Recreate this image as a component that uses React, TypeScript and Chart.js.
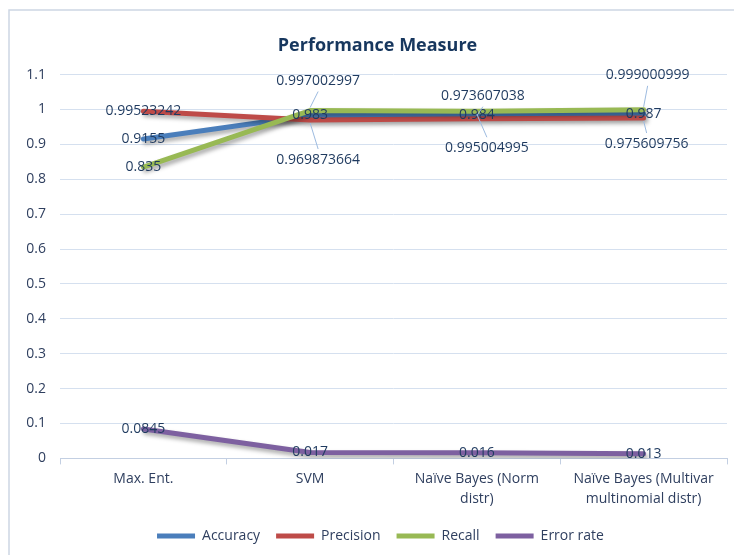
import React, { useEffect, useRef } from 'react';
import { Chart, registerables } from 'chart.js';

Chart.register(...registerables);

const categories: (string | string[])[] = [
  'Max. Ent.',
  'SVM',
  ['Naïve Bayes (Norm', 'distr)'],
  ['Naïve Bayes (Multivar', 'multinomial distr)'],
];
const seriesNames = ['Accuracy', 'Precision', 'Recall', 'Error rate'];
const accuracy = [0.9155, 0.983, 0.984, 0.987];
const precision = [0.99523242, 0.969873664, 0.973607038, 0.975609756];
const recall = [0.835, 0.997002997, 0.995004995, 0.999000999];
const errorRate = [0.0845, 0.017, 0.016, 0.013];
const yTickLabels = ['0', '0.1', '0.2', '0.3', '0.4', '0.5', '0.6', '0.7', '0.8', '0.9', '1', '1.1'];

const colors = ['#4a7ebb', '#be4b48', '#98b954', '#7d60a0'];
const FONT = '"Open Sans", "Liberation Sans", sans-serif';
const TEXT = '#1f3a5f';

// label displacement (dx, dy) for overlapping labels, keyed "dataset-index"
const labelMoves: Record<string, [number, number]> = {
  '2-1': [8, -30],
  '1-1': [8, 40],
  '1-2': [6, -23],
  '2-2': [10, 37],
  '2-3': [4, -35],
  '1-3': [3, 26],
};

const framePlugin = {
  id: 'frame',
  beforeDraw(chart: any) {
    const ctx = chart.ctx;
    ctx.save();
    ctx.fillStyle = '#ffffff';
    ctx.fillRect(0, 0, chart.width, chart.height);
    ctx.strokeStyle = '#cdd6e4';
    ctx.lineWidth = 1.5;
    ctx.beginPath();
    ctx.moveTo(9, chart.height);
    ctx.lineTo(9, 10);
    ctx.lineTo(chart.width, 10);
    ctx.stroke();
    ctx.restore();
  },
};

const shiftPlugin = {
  id: 'shiftBoxes',
  afterLayout(chart: any) {
    if (chart.legend) {
      chart.legend.left += 17;
      chart.legend.right += 17;
    }
    if (chart.titleBlock) {
      chart.titleBlock.left += 14;
      chart.titleBlock.right += 14;
    }
  },
};

const shadowPlugin = {
  id: 'lineShadow',
  beforeDatasetsDraw(chart: any) {
    const ctx = chart.ctx;
    ctx.save();
    ctx.shadowColor = 'rgba(0,0,0,0.35)';
    ctx.shadowBlur = 4;
    ctx.shadowOffsetX = 2;
    ctx.shadowOffsetY = 3;
  },
  afterDatasetsDraw(chart: any) {
    chart.ctx.restore();
  },
};

const labelPlugin = {
  id: 'valueLabels',
  afterDatasetsDraw(chart: any) {
    const ctx = chart.ctx;
    ctx.save();
    ctx.font = `14px ${FONT}`;
    ctx.textAlign = 'center';
    ctx.textBaseline = 'middle';
    chart.data.datasets.forEach((ds: any, di: number) => {
      const meta = chart.getDatasetMeta(di);
      meta.data.forEach((pt: any, i: number) => {
        const v = ds.data[i];
        const mv = labelMoves[`${di}-${i}`];
        let x = pt.x;
        let y = pt.y;
        if (mv) {
          x += mv[0];
          y += mv[1];
          ctx.strokeStyle = '#9dbbe0';
          ctx.lineWidth = 1;
          ctx.beginPath();
          if (mv[1] < 0) {
            ctx.moveTo(x, y + 11);
            ctx.lineTo(pt.x, pt.y - 3);
          } else {
            ctx.moveTo(x, y - 11);
            ctx.lineTo(pt.x, pt.y + 3);
          }
          ctx.stroke();
        }
        ctx.fillStyle = TEXT;
        ctx.fillText(String(v), x, y);
      });
    });
    ctx.restore();
  },
};

export default function App() {
  const ref = useRef<HTMLCanvasElement | null>(null);
  useEffect(() => {
    if (!ref.current) return;
    const series = [accuracy, precision, recall, errorRate];
    const chart = new Chart(ref.current, {
      type: 'line',
      data: {
        labels: categories as any,
        datasets: series.map((d, i) => ({
          label: seriesNames[i],
          data: d,
          borderColor: colors[i],
          backgroundColor: colors[i],
          borderWidth: 5,
          pointRadius: 0,
          tension: 0,
          borderCapStyle: 'round' as const,
          borderJoinStyle: 'round' as const,
          order: 4 - i,
        })),
      },
      options: {
        animation: false,
        responsive: false,
        layout: { padding: { top: 0, right: 7, bottom: 2, left: 0 } },
        plugins: {
          tooltip: { enabled: false },
          title: {
            display: true,
            text: 'Performance Measure',
            color: '#17375e',
            font: { family: FONT, size: 18, weight: 'bold' },
            padding: { top: 35, bottom: 18 },
          },
          legend: {
            position: 'bottom',
            labels: {
              color: '#2f3f5f',
              font: { family: FONT, size: 14 },
              boxWidth: 38,
              boxHeight: 5,
              padding: 16,
              sort: (a: any, b: any) => a.datasetIndex - b.datasetIndex,
              generateLabels: (c: any) => {
                const items = Chart.defaults.plugins.legend.labels.generateLabels(c);
                return items.map((it: any) => ({ ...it, lineWidth: 0, fillStyle: colors[it.datasetIndex] }));
              },
            },
          },
        },
        scales: {
          x: {
            offset: true,
            grid: {
              offset: true,
              drawOnChartArea: false,
              drawTicks: true,
              tickLength: 6,
              color: '#c3cfe2',
            },
            border: { display: true, color: '#c3cfe2', width: 1 },
            ticks: {
              color: '#2f3f5f',
              font: { family: FONT, size: 14, lineHeight: 1.45 },
              padding: 4,
              maxRotation: 0,
              autoSkip: false,
            },
          },
          y: {
            min: 0,
            max: 1.1,
            afterFit: (s: any) => {
              s.width = 60;
            },
            ticks: {
              stepSize: 0.1,
              color: '#2f3f5f',
              font: { family: FONT, size: 14 },
              padding: 14,
              callback: (v: any) => yTickLabels[Math.round(Number(v) * 10)] ?? '',
            },
            grid: { color: '#d5e0ef', drawTicks: false, lineWidth: 1 },
            border: { display: false },
          },
        },
      },
      plugins: [framePlugin, shiftPlugin, shadowPlugin, labelPlugin],
    });
    return () => chart.destroy();
  }, []);
  return (
    <div style={{ position: 'fixed', left: 0, top: 0, width: 734, height: 555, background: '#fff' }}>
      <canvas ref={ref} width={734} height={555} />
    </div>
  );
}
